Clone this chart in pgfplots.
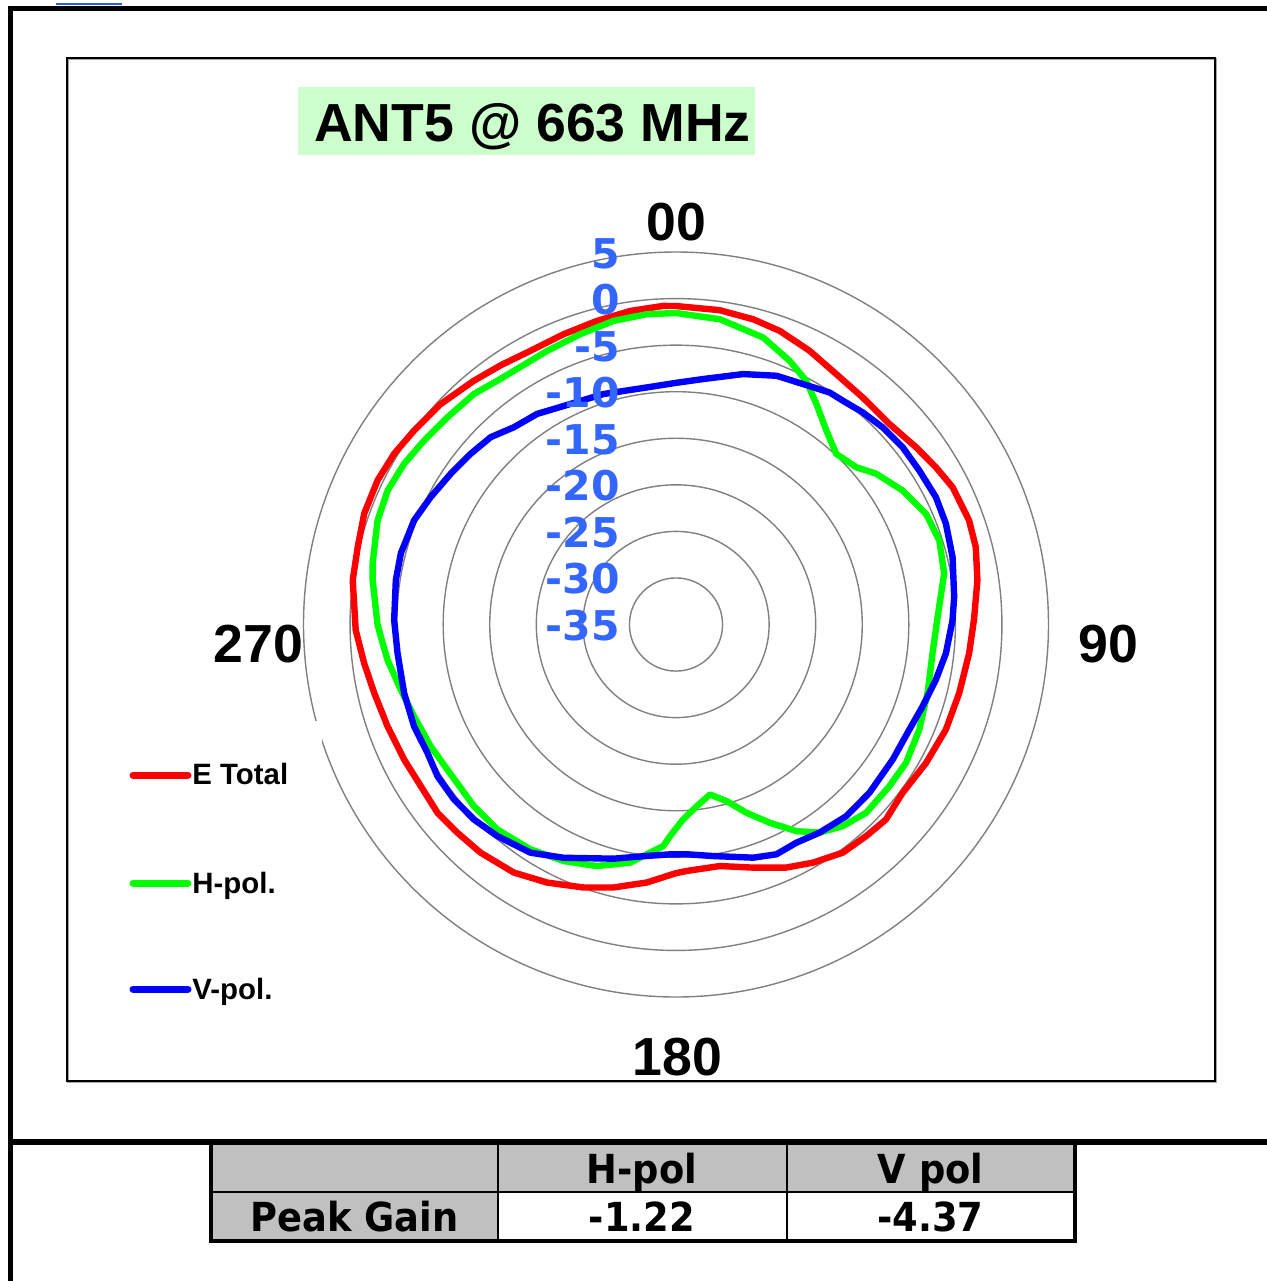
\documentclass[border=0pt]{standalone}
\usepackage{pgfplots}
\pgfplotsset{compat=1.18}
\usepgfplotslibrary{polar}
\usepackage{pgfplotstable}
\usepackage{fontspec}
\setmainfont{Liberation Sans}
\newfontfamily\dvb{DejaVu Sans}
\newfontfamily\tabfont[FakeStretch=0.92]{DejaVu Sans}
\definecolor{lblblue}{RGB}{51,102,255}
\definecolor{linkblue}{RGB}{40,90,230}
\definecolor{ttlgreen}{RGB}{204,255,204}
\definecolor{tabgray}{RGB}{192,192,192}

% angle (deg, clockwise from top), gain (dB)
\pgfplotstableread{
a d
0 -0.80
7.9 -0.92
14.2 -1.19
19.5 -1.56
26 -2.29
32.6 -3.07
39.4 -3.43
46.8 -3.55
53.5 -2.96
58.8 -2.38
63.6 -1.84
70.4 -1.60
75.5 -1.75
81.6 -2.28
89 -2.99
95.6 -3.37
103.6 -3.71
111.3 -3.90
119 -4.31
126.6 -4.69
132.9 -4.23
138 -4.45
143.8 -4.65
150.1 -5.50
155.6 -6.34
162.4 -7.61
169.7 -8.64
177.5 -8.51
180 -8.30
186.5 -7.11
193.4 -5.97
199.4 -5.06
206.5 -4.03
213.2 -3.17
220.6 -2.74
226.4 -2.58
231.7 -2.37
237.6 -2.56
243.6 -2.40
250.5 -2.15
257.2 -1.77
262.9 -1.26
269 -0.60
277.8 0.04
283.7 0.18
289.6 0.54
295.8 0.59
301.2 0.39
306.5 0.00
313.1 -0.37
320.3 -0.99
326 -1.40
332 -1.71
338.8 -1.57
345.4 -1.31
351.7 -0.97
357.7 -0.76
360 -0.80
}\tabE

\pgfplotstableread{
a d
0 -1.55
8.2 -1.88
16.9 -2.79
23.3 -4.16
28.1 -5.32
32.5 -6.93
37.8 -8.65
43.2 -9.86
48.9 -9.31
53 -8.09
59.4 -6.72
66.1 -5.64
72.3 -5.32
79.2 -5.68
86.1 -6.67
89 -6.95
96.4 -7.28
105.3 -7.00
113.4 -6.54
121 -6.18
127.2 -6.25
134.7 -6.26
140.4 -6.90
145.4 -7.85
149.8 -9.33
154.7 -11.46
159.5 -13.42
164 -15.27
168.7 -16.38
173.5 -15.36
177.9 -14.06
181.6 -12.27
183.3 -11.17
190.9 -8.96
198.1 -7.71
205.4 -6.88
212.9 -6.24
221.1 -5.80
228 -5.82
237.6 -5.92
243.6 -5.59
250.7 -5.19
256.6 -4.63
263 -3.79
267.6 -3.28
270 -2.95
278.3 -2.08
281.4 -1.77
289.2 -1.06
294.9 -0.85
300.6 -1.08
306.1 -1.50
312.2 -1.87
318.8 -2.08
323.7 -2.54
331.1 -2.66
334.8 -2.52
341.8 -2.17
348.4 -1.71
354.6 -1.53
360 -1.55
}\tabH

\pgfplotstableread{
a d
0 -9.05
6.3 -8.48
15 -7.16
22 -6.19
27.8 -5.80
33.5 -5.12
36.7 -5.02
41.4 -4.65
46.3 -4.33
52 -4.10
57.7 -4.08
63.9 -3.92
69.5 -4.06
76.3 -4.43
84.3 -4.98
89.1 -5.30
96.1 -5.85
102 -6.47
108.4 -7.10
114.3 -7.52
121.9 -7.58
131 -7.47
138.4 -7.47
145.4 -7.85
151.1 -8.24
156.4 -8.07
161.7 -8.63
170.9 -9.82
177.3 -10.30
181.5 -10.31
187.2 -9.95
194.9 -8.98
205.7 -7.20
212.5 -5.94
220.2 -5.26
226 -4.85
231.8 -4.65
237.5 -4.64
242.7 -4.96
248.7 -4.82
255.8 -4.89
264.1 -4.94
270.9 -4.73
279 -4.54
284.5 -4.48
291.7 -4.73
297.5 -5.32
303.8 -5.89
309.7 -6.32
315.3 -6.70
320.6 -7.58
326.6 -7.91
334.4 -8.74
342.5 -9.05
353 -9.35
360 -9.05
}\tabV

\begin{document}
\begin{tikzpicture}
\begin{scope}[x=0.5pt,y=-0.5pt]
\path[use as bounding box] (0,0) rectangle (1267,1281);
\fill[white] (0,0) rectangle (1267,1281);
% link underline
\draw[linkblue, line width=1.2pt] (56,4) -- (122,4);
% outer frame
\draw[line width=2.5pt] (10,1281) -- (10,8.5) -- (1267,8.5);
% chart area
\draw[gray!70, line width=1pt] (68,59) rectangle (1216,1082);
\draw[black, line width=1pt] (67,58) rectangle (1215,1081);
% title
\fill[ttlgreen] (298,87) rectangle (755,155);
\node[anchor=base, inner sep=0pt] at (532.5,141.7) {\fontsize{26.8pt}{32pt}\selectfont\bfseries ANT5 @ 663 MHz};
% table
\fill[tabgray] (211,1142) rectangle (1075,1192);
\fill[tabgray] (211,1192) rectangle (498,1241);
\draw[line width=1pt] (211,1192) -- (1075,1192);
\draw[line width=1pt] (498,1142) -- (498,1241);
\draw[line width=1pt] (787,1142) -- (787,1241);
\draw[line width=2pt] (211,1142) -- (211,1243);
\draw[line width=2pt] (1075,1142) -- (1075,1243);
\draw[line width=2pt] (209,1241) -- (1077,1241);
\draw[line width=3pt] (10,1142) -- (1267,1142);
\node[anchor=base, inner sep=0pt] at (642,1183) {\tabfont\fontsize{20pt}{24pt}\selectfont\bfseries H-pol};
\node[anchor=base, inner sep=0pt] at (930.5,1183) {\tabfont\fontsize{20pt}{24pt}\selectfont\bfseries V pol};
\node[anchor=base, inner sep=0pt] at (354.5,1231) {\tabfont\fontsize{20pt}{24pt}\selectfont\bfseries Peak Gain};
\node[anchor=base, inner sep=0pt] at (642,1231) {\tabfont\fontsize{20pt}{24pt}\selectfont\bfseries -1.22};
\node[anchor=base, inner sep=0pt] at (930.5,1231) {\tabfont\fontsize{20pt}{24pt}\selectfont\bfseries -4.37};
\end{scope}

\begin{polaraxis}[
  at={(338pt,-312.25pt)}, anchor=center,
  width=372.5pt, height=372.5pt, scale only axis,
  xmin=0, xmax=360, ymin=0, ymax=40,
  xtick=\empty,
  ytick={5,10,...,35}, yticklabels={},
  major tick length=0pt,
  ymajorgrids,
  grid style={draw=gray, line width=0.7pt},
  separate axis lines,
  x axis line style={draw=gray, line width=0.7pt},
  y axis line style={draw=none},
  clip=false,
]
\addplot[red, line width=3.2pt, line join=round, no markers] table[x expr={450-\thisrow{a}}, y expr={\thisrow{d}+35}] {\tabE};
\addplot[green, line width=3.2pt, line join=round, no markers] table[x expr={450-\thisrow{a}}, y expr={\thisrow{d}+35}] {\tabH};
\addplot[blue, line width=3.2pt, line join=round, no markers] table[x expr={450-\thisrow{a}}, y expr={\thisrow{d}+35}] {\tabV};
\end{polaraxis}

\begin{scope}[x=0.5pt,y=-0.5pt]
% radial labels
\foreach \v/\yy in {5/252,0/298.6,-5/345.1,-10/391.7,-15/438.25,-20/484.8,-25/531.4,-30/577.9,-35/624.5}{
  \node[anchor=base east, inner sep=0pt, text=lblblue] at (620,\yy+16) {\dvb\fontsize{20.5pt}{24pt}\selectfont\bfseries \v};
}
% angle labels
\node[anchor=base, inner sep=0pt] at (676.5,240) {\fontsize{26.8pt}{32pt}\selectfont\bfseries 00};
\node[anchor=base, inner sep=0pt] at (1108.5,662) {\fontsize{26.8pt}{32pt}\selectfont\bfseries 90};
\node[anchor=base, inner sep=0pt] at (258.5,662) {\fontsize{26.8pt}{32pt}\selectfont\bfseries 270};
\node[anchor=base, inner sep=0pt] at (677.5,1075) {\fontsize{26.8pt}{32pt}\selectfont\bfseries 180};
% legend
\fill[white] (118,721) rectangle (322,1030);
\draw[red, line width=3.5pt, line cap=round] (133,775) -- (188,775);
\draw[green, line width=3.5pt, line cap=round] (133,883) -- (188,883);
\draw[blue, line width=3.5pt, line cap=round] (133,989) -- (188,989);
\node[anchor=base west, inner sep=0pt] at (192,784) {\fontsize{14.7pt}{18pt}\selectfont\bfseries E Total};
\node[anchor=base west, inner sep=0pt] at (192,893) {\fontsize{14.7pt}{18pt}\selectfont\bfseries H-pol.};
\node[anchor=base west, inner sep=0pt] at (192,999) {\fontsize{14.7pt}{18pt}\selectfont\bfseries V-pol.};
\end{scope}
\end{tikzpicture}
\end{document}
